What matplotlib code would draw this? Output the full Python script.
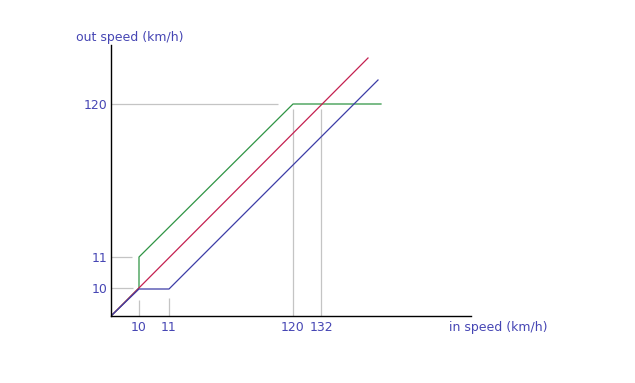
import matplotlib
matplotlib.use("Agg")
import matplotlib.pyplot as plt

# schematic diagram units (axis not to scale), origin at 0
x_tick_pos = [28, 58, 182, 210]
x_tick_labels = ["10", "11", "120", "132"]
y_tick_pos = [28, 59, 212]
y_tick_labels = ["10", "11", "120"]

green_x = [0, 28, 28, 182, 270]
green_y = [0, 28, 59, 212, 212]
red_x = [0, 257]
red_y = [0, 258]
blue_x = [0, 28, 58, 267]
blue_y = [0, 27, 27, 236]

# gray guide lines: (x list, y list)
guides = [
    ([0, 167], [212, 212]),
    ([0, 21], [59, 59]),
    ([0, 22], [28, 28]),
    ([28, 28], [0, 16]),
    ([58, 58], [0, 18]),
    ([182, 182], [0, 207]),
    ([210, 210], [0, 207]),
]

text_color = "#4646b4"

fig = plt.figure(figsize=(6.35, 3.83), dpi=100)
ax = fig.add_axes([111 / 635, 67 / 383, 360 / 635, 271 / 383])

for gx, gy in guides:
    ax.plot(gx, gy, color="#c4c4c4", lw=0.9, solid_capstyle="butt")

ax.plot(green_x, green_y, color="#2f9444", lw=0.9)
ax.plot(red_x, red_y, color="#c42050", lw=0.9)
ax.plot(blue_x, blue_y, color="#3c3ca6", lw=0.9)

ax.set_xlim(0, 360)
ax.set_ylim(0, 271)
ax.spines["top"].set_visible(False)
ax.spines["right"].set_visible(False)
ax.spines["left"].set_linewidth(1.0)
ax.spines["bottom"].set_linewidth(1.0)

ax.set_xticks(x_tick_pos, x_tick_labels)
ax.set_yticks(y_tick_pos, y_tick_labels)
ax.tick_params(axis="x", length=0, pad=3.5, labelsize=9, labelcolor=text_color)
ax.tick_params(axis="y", length=0, pad=2.5, labelsize=9, labelcolor=text_color)

fig.text(449 / 635, 1 - 327 / 383, "in speed (km/h)", ha="left", va="center",
         fontsize=9, color=text_color)
fig.text(130 / 635, 1 - 37 / 383, "out speed (km/h)", ha="center", va="center",
         fontsize=9, color=text_color)

fig.savefig("out.png", dpi=100)
